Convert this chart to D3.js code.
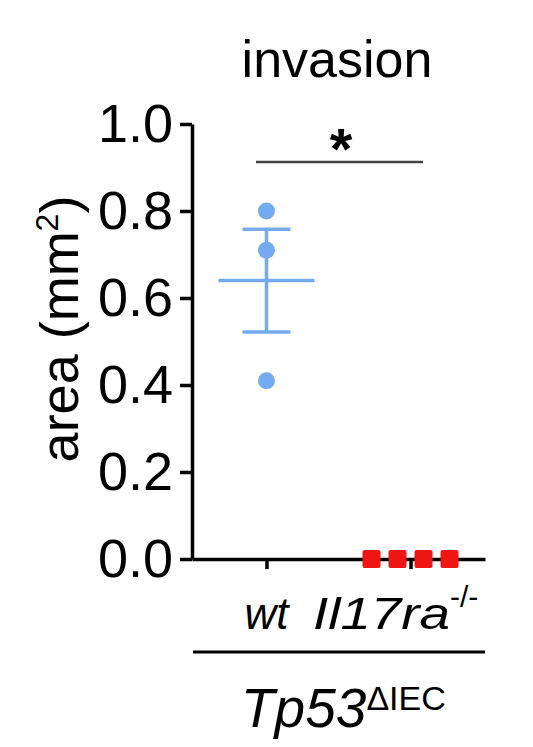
<!DOCTYPE html>
<html>
<head>
<meta charset="utf-8">
<script src="https://cdn.jsdelivr.net/npm/d3@7"></script>
<style>
  body { margin: 0; background: #fff; }
  svg text { font-family: "Liberation Sans", Arial, Helvetica, sans-serif; fill: #000; }
</style>
</head>
<body>
<svg id="chart" width="533" height="747"></svg>
<script>
// values
const groups = ["wt", "Il17ra"];
const wtValues = [0.80, 0.71, 0.41];
const koValues = [0, 0, 0, 0];
const yTicks = [0, 0.2, 0.4, 0.6, 0.8, 1.0];
const groupColors = ["#74aaf0", "#ee1515"];

const svg = d3.select("#chart");

const y = d3.scaleLinear().domain([0, 1]).range([559, 124]);
const x = d3.scalePoint().domain(groups).range([192, 485]).padding(0.517);

// axes
const yAxis = svg.append("g")
    .attr("transform", "translate(192,0)")
    .call(d3.axisLeft(y).tickValues(yTicks).tickFormat(d3.format(".1f"))
        .tickSize(12).tickSizeOuter(0).tickPadding(7));
yAxis.selectAll("text").style("font-size", "54px");

const xAxis = svg.append("g")
    .attr("transform", "translate(0,559)")
    .call(d3.axisBottom(x).tickFormat("").tickSize(10).tickSizeOuter(0));

svg.selectAll(".domain, .tick line")
    .attr("stroke", "#000").attr("stroke-width", 3.5);

// wt: mean +/- SEM
const mean = d3.mean(wtValues);
const sem = d3.deviation(wtValues) / Math.sqrt(wtValues.length);
const cx = x("wt");
const err = svg.append("g").attr("stroke", groupColors[0]).attr("stroke-width", 3.5);
err.append("line").attr("x1", cx).attr("x2", cx).attr("y1", y(mean + sem)).attr("y2", y(mean - sem));
err.append("line").attr("x1", cx - 24).attr("x2", cx + 24).attr("y1", y(mean + sem)).attr("y2", y(mean + sem));
err.append("line").attr("x1", cx - 24).attr("x2", cx + 24).attr("y1", y(mean - sem)).attr("y2", y(mean - sem));
err.append("line").attr("x1", cx - 48).attr("x2", cx + 48).attr("y1", y(mean)).attr("y2", y(mean));

svg.selectAll(".wt-dot")
    .data(wtValues)
    .enter().append("circle")
    .attr("cx", cx)
    .attr("cy", d => y(d))
    .attr("r", 8.5)
    .attr("fill", groupColors[0]);

// ko: identical values spread sideways like the prism scatter
const spread = 26;
svg.selectAll(".ko-pt")
    .data(koValues)
    .enter().append("rect")
    .attr("x", (d, i) => x("Il17ra") + (i - (koValues.length - 1) / 2) * spread - 9)
    .attr("y", d => y(d) - 9)
    .attr("width", 18).attr("height", 18)
    .attr("rx", 2)
    .attr("fill", groupColors[1]);

// significance bar
svg.append("line")
    .attr("x1", 256).attr("x2", 423).attr("y1", 162).attr("y2", 162)
    .attr("stroke", "#444").attr("stroke-width", 2.5);
svg.append("text")
    .attr("x", 341).attr("y", 169)
    .attr("text-anchor", "middle")
    .style("font-size", "58px").style("font-weight", "bold")
    .text("*");

// title
svg.append("text")
    .attr("x", 337).attr("y", 77)
    .attr("text-anchor", "middle")
    .style("font-size", "52px")
    .text("invasion");

// y title
const yt = svg.append("text")
    .attr("transform", "translate(78,329) rotate(-90)")
    .attr("text-anchor", "middle")
    .style("font-size", "54px");
yt.append("tspan").text("area (mm");
yt.append("tspan").attr("dy", -20).style("font-size", "32px").text("2");
yt.append("tspan").attr("dy", 20).text(")");

// group labels
svg.append("text")
    .attr("x", x("wt")).attr("y", 629)
    .attr("text-anchor", "middle")
    .style("font-size", "44px").style("font-style", "italic")
    .text("wt");
const ko = svg.append("text")
    .attr("x", 313).attr("y", 629)
    .style("font-size", "44px").style("font-style", "italic");
ko.append("tspan").attr("textLength", 137).attr("lengthAdjust", "spacingAndGlyphs").text("Il17ra");
ko.append("tspan").attr("dy", -22).style("font-size", "30px").style("font-style", "normal").text("-/-");

svg.append("line")
    .attr("x1", 193).attr("x2", 485).attr("y1", 652).attr("y2", 652)
    .attr("stroke", "#000").attr("stroke-width", 3);

const tp = svg.append("text")
    .attr("x", 241).attr("y", 727)
    .style("font-size", "55px").style("font-style", "italic");
tp.append("tspan").text("Tp53");
tp.append("tspan").attr("dy", -17).style("font-size", "34px").style("font-style", "normal").text("ΔIEC");
</script>
</body>
</html>
